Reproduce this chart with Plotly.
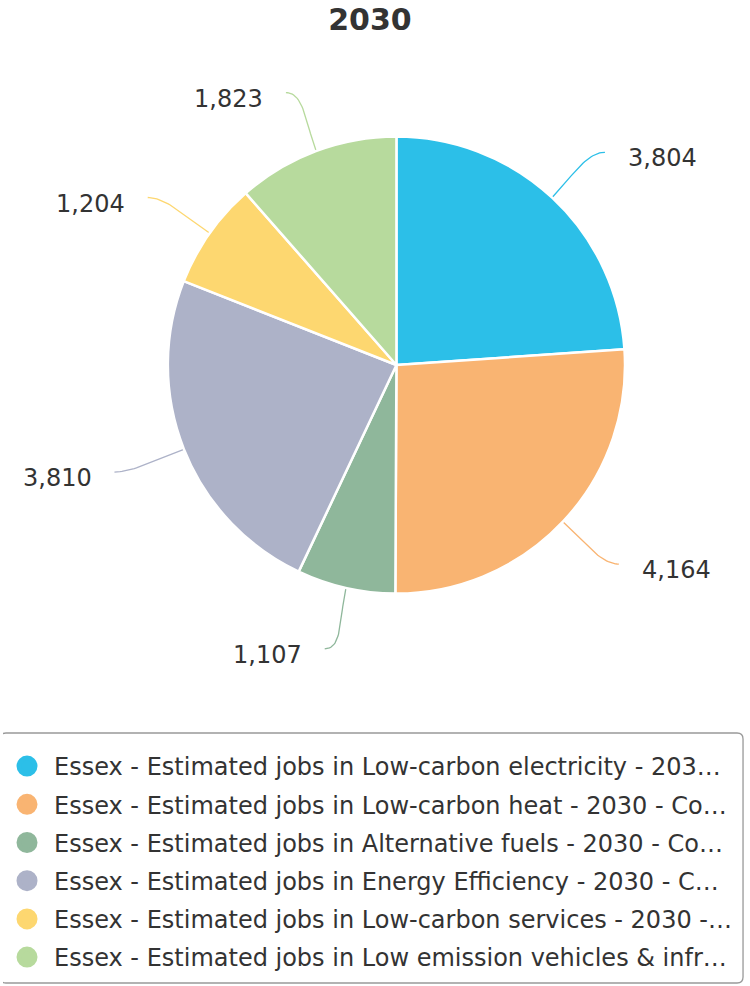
import math
import plotly.graph_objects as go

W, H = 750, 986

title_text = "2030"
legend_labels = [
    "Essex - Estimated jobs in Low-carbon electricity - 203…",
    "Essex - Estimated jobs in Low-carbon heat - 2030 - Co…",
    "Essex - Estimated jobs in Alternative fuels - 2030 - Co…",
    "Essex - Estimated jobs in Energy Efficiency - 2030 - C…",
    "Essex - Estimated jobs in Low-carbon services - 2030 -…",
    "Essex - Estimated jobs in Low emission vehicles & infr…",
]
values = [3804, 4164, 1107, 3810, 1204, 1823]
colors = ["#2CBFE8", "#F9B472", "#8FB79B", "#ADB2C8", "#FDD770", "#B7DA9D"]

FONT = "DejaVu Sans, Verdana, sans-serif"
TXT = "#333333"

# pie geometry (pixels)
cx, cy, r = 395.0, 365.0, 229.5

fig = go.Figure()

fig.add_trace(go.Pie(
    values=values, labels=legend_labels, sort=False, direction="clockwise", rotation=0,
    marker=dict(colors=colors, line=dict(color="white", width=2.5)),
    textinfo="none", showlegend=False, hoverinfo="label+value",
    domain=dict(x=[(cx - r) / W, (cx + r) / W], y=[1 - (cy + r) / H, 1 - (cy - r) / H]),
))

total = float(sum(values))
cum = 0.0
annotations = []
for v, c in zip(values, colors):
    mid = (cum + v / 2.0) / total * 2 * math.pi
    cum += v
    dx, dy = math.sin(mid), -math.cos(mid)
    side = 1 if dx > 0 else -1
    p0 = (cx + r * dx, cy + r * dy)
    p3 = (cx + 298 * dx + side * 6, cy + 291 * dy)
    p1 = (p0[0] + 30 * dx, p0[1] + 30 * dy)
    p2 = (p3[0] - side * 18, p3[1])
    xs, ys = [], []
    for k in range(31):
        t = k / 30.0
        a, b, cc, d = (1 - t) ** 3, 3 * (1 - t) ** 2 * t, 3 * (1 - t) * t ** 2, t ** 3
        xs.append(a * p0[0] + b * p1[0] + cc * p2[0] + d * p3[0])
        ys.append(a * p0[1] + b * p1[1] + cc * p2[1] + d * p3[1])
    fig.add_trace(go.Scatter(x=xs, y=ys, mode="lines", line=dict(color=c, width=1.3),
                             showlegend=False, hoverinfo="skip"))
    annotations.append(dict(
        x=p3[0] + side * 21, y=p3[1] + 6, xref="x", yref="y",
        text=f"{v:,}", showarrow=False,
        xanchor="left" if side > 0 else "right", yanchor="middle",
        font=dict(family=FONT, size=24, color=TXT),
    ))

# legend entries
for i, (lab, c) in enumerate(zip(legend_labels, colors)):
    fig.add_trace(go.Scatter(x=[None], y=[None], mode="markers", name=lab,
                             legendgroup=f"g{i}",
                             marker=dict(symbol="circle", size=22, color=c,
                                         line=dict(color=c, width=6)),
                             showlegend=True))

# rounded legend box
x0, x1, y0, y1, rad = -3, 743, 733, 983, 6
box = (f"M {x0+rad},{y0} L {x1-rad},{y0} Q {x1},{y0} {x1},{y0+rad} "
       f"L {x1},{y1-rad} Q {x1},{y1} {x1-rad},{y1} L {x0+rad},{y1} "
       f"Q {x0},{y1} {x0},{y1-rad} L {x0},{y0+rad} Q {x0},{y0} {x0+rad},{y0} Z")

fig.update_layout(
    width=W, height=H,
    margin=dict(l=0, r=0, t=0, b=0),
    paper_bgcolor="white", plot_bgcolor="white",
    title=dict(text=f"<b>{title_text}</b>", x=370 / W, y=1 - 19 / H,
               xanchor="center", yanchor="middle",
               font=dict(family=FONT, size=30, color=TXT)),
    xaxis=dict(range=[0, W], visible=False, fixedrange=True, domain=[0, 1]),
    yaxis=dict(range=[H, 0], visible=False, fixedrange=True, domain=[0, 1]),
    showlegend=True,
    legend=dict(x=-3 / W, y=1 - 744 / H, xanchor="left", yanchor="top",
                font=dict(family=FONT, size=24, color=TXT),
                tracegroupgap=4, itemwidth=44,
                bgcolor="rgba(0,0,0,0)", borderwidth=0),
    annotations=annotations,
    shapes=[dict(type="path", path=box, xref="x", yref="y",
                 line=dict(color="#999999", width=1.3), fillcolor="rgba(0,0,0,0)")],
)

fig.write_html("out.html")
